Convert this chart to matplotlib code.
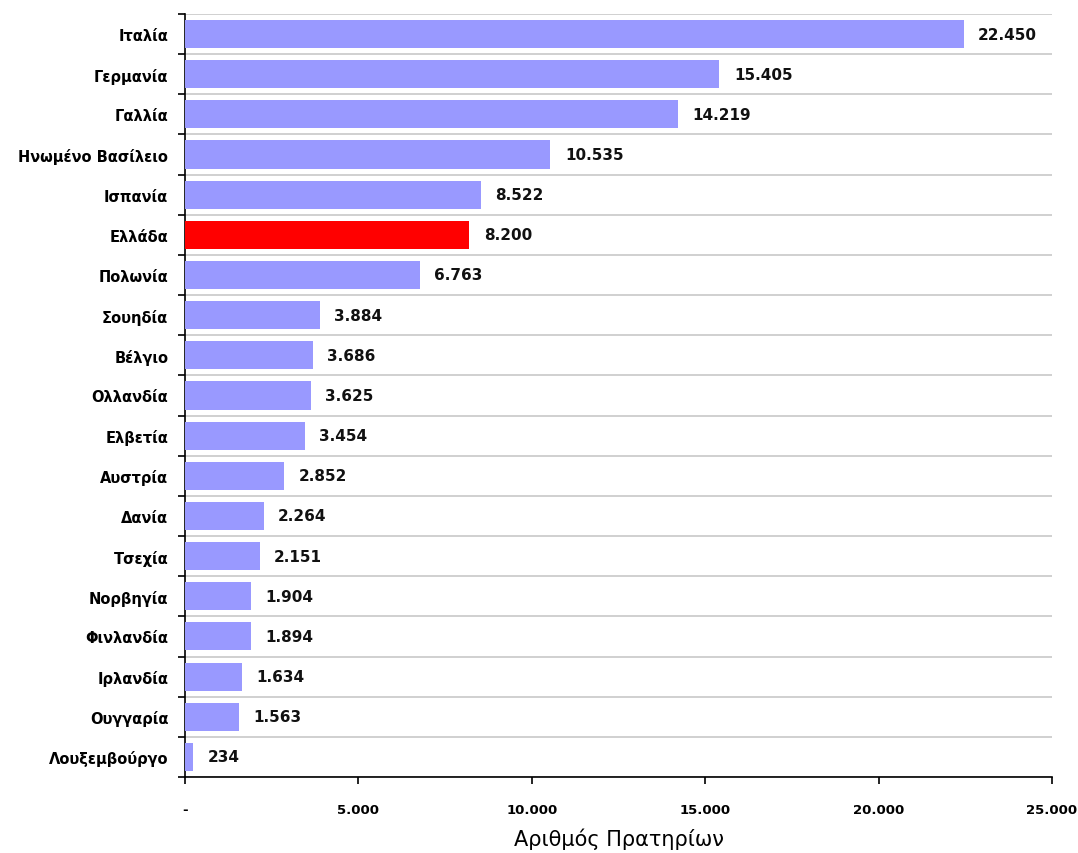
# -*- coding: utf-8 -*-

import matplotlib
matplotlib.use('Agg')
import numpy as np
from matplotlib import pyplot as plt
from matplotlib.ticker import FuncFormatter

# πρατήρια ανά χώρα
countries = ['Ιταλία', 'Γερμανία', 'Γαλλία', 'Ηνωμένο Βασίλειο', 'Ισπανία', 'Ελλάδα',
             'Πολωνία', 'Σουηδία', 'Βέλγιο', 'Ολλανδία', 'Ελβετία', 'Αυστρία', 'Δανία',
             'Τσεχία', 'Νορβηγία', 'Φινλανδία', 'Ιρλανδία', 'Ουγγαρία', 'Λουξεμβούργο']
stations = [22450, 15405, 14219, 10535, 8522, 8200, 6763, 3884, 3686, 3625,
            3454, 2852, 2264, 2151, 1904, 1894, 1634, 1563, 234]
x_ticks = [0, 5000, 10000, 15000, 20000, 25000]


def fmt_thousands(v, pos=None):
    if v == 0:
        return '-'
    return f'{int(v):,}'.replace(',', '.')


plt.rcParams['font.family'] = ['DejaVu Sans']

fig = plt.figure(figsize=(10.78, 8.54), dpi=100)
ax = fig.add_axes([0.1716, 0.089, 0.8043, 0.8935])

y = np.arange(len(countries))
colors = ['#FF0000' if c == 'Ελλάδα' else '#9999FF' for c in countries]
ax.barh(y, stations, height=0.7, color=colors, zorder=3)

for yi, v in zip(y, stations):
    ax.text(v + 420, yi, fmt_thousands(v), va='center', ha='left',
            fontsize=11, fontweight='bold', color='#111111')

ax.set_ylim(len(countries) - 0.5, -0.5)
ax.set_xlim(0, 25000)
ax.set_yticks(y)
ax.set_yticklabels(countries, fontsize=10.5, fontweight='bold')
ax.tick_params(axis='y', length=0, pad=12)

# οριζόντιες γραμμές ανάμεσα στις κατηγορίες
ax.set_yticks(np.arange(-0.5, len(countries)), minor=True)
ax.tick_params(axis='y', which='minor', length=5, width=1.2, direction='out')
ax.grid(axis='y', which='minor', color='#c8c8c8', linewidth=1.2, zorder=0)

ax.set_xticks(x_ticks)
ax.xaxis.set_major_formatter(FuncFormatter(fmt_thousands))
ax.tick_params(axis='x', length=5, width=1.2, pad=14, labelsize=9.5)
for lbl in ax.get_xticklabels():
    lbl.set_fontweight('bold')

ax.spines['top'].set_visible(False)
ax.spines['right'].set_visible(False)
ax.spines['left'].set_linewidth(1.2)
ax.spines['bottom'].set_linewidth(1.2)

ax.set_xlabel('Αριθμός Πρατηρίων', fontsize=15, labelpad=8)

plt.savefig('out.png', dpi=100)
